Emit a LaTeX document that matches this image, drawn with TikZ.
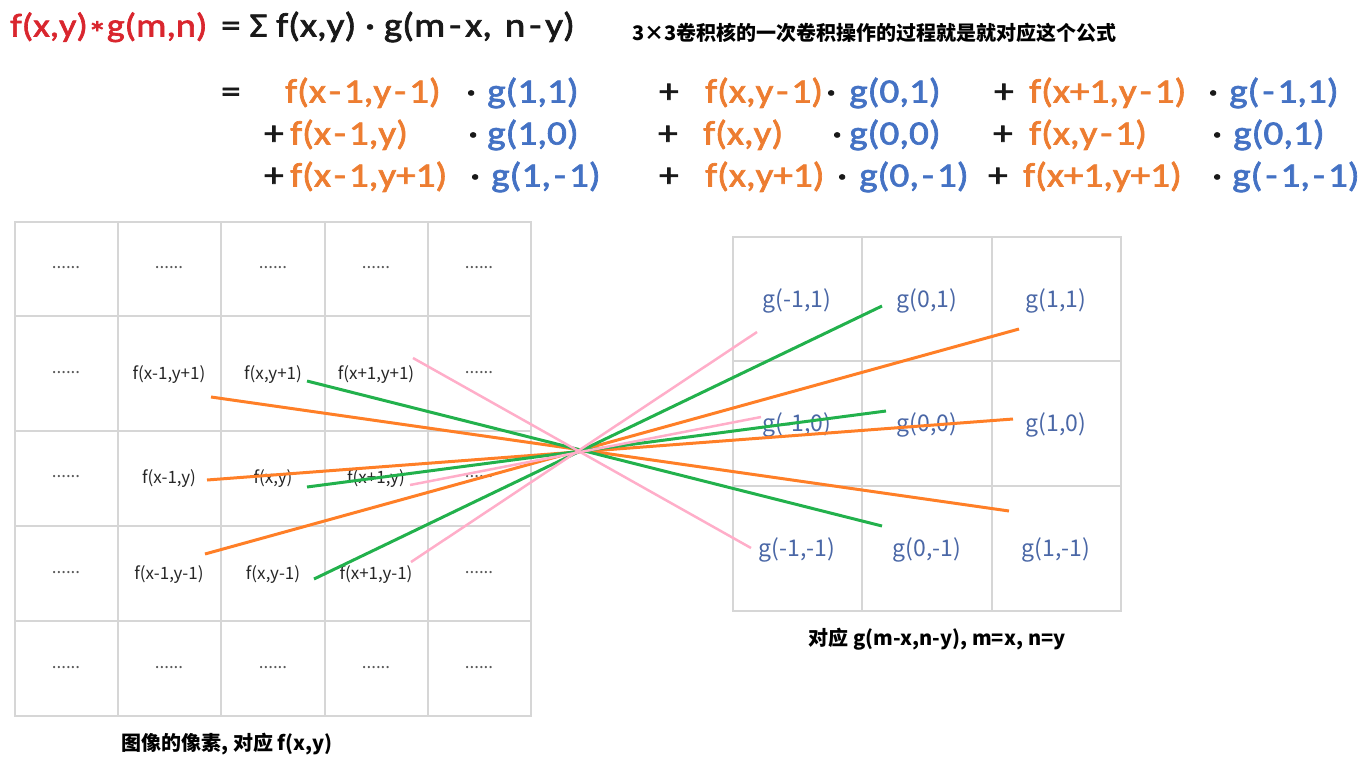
\documentclass[tikz,border=0pt]{standalone}
\usepackage{fontspec}
\newfontfamily\fmlfont{Carlito}[FakeStretch=1.15, FakeBold=2]
\newfontfamily\cjk{Noto Sans CJK SC}
\newcommand\hy{\kern3pt-\kern3pt}
\newcommand\hyw{\kern4pt-\kern4pt}

\definecolor{fred}{HTML}{D9262E}
\definecolor{forange}{HTML}{ED7D31}
\definecolor{gblue}{HTML}{4472C4}
\definecolor{cellblue}{HTML}{4A67A6}
\definecolor{gridgray}{HTML}{D6D6D6}
\definecolor{lorange}{HTML}{FF7F27}
\definecolor{lgreen}{HTML}{22B14C}
\definecolor{lpink}{HTML}{FFAEC9}

\tikzset{
    fml/.style={font=\fmlfont\fontsize{34}{40}\selectfont, inner sep=0pt, anchor=west, text height=25pt, text depth=8pt},
    fo/.style={fml, text=forange},
    gb/.style={fml, text=gblue},
    fk/.style={fml, text=black!90},
    cell/.style={font=\cjk\fontsize{17}{20}\selectfont, text=black!85, inner sep=0pt},
    dotcell/.style={cell, text=black!65},
    kcell/.style={font=\cjk\fontsize{23}{26}\selectfont, text=cellblue, inner sep=0pt},
    capt/.style={font=\cjk\bfseries\fontsize{20}{24}\selectfont, inner sep=0pt},
    gridline/.style={draw=gridgray, line width=1.5pt},
    link/.style={line width=3pt}
}

\begin{document}
\begin{tikzpicture}[x=1pt, y=-1pt]

    \useasboundingbox (0,0) rectangle (1367,764);

    %% Formula

    % First line
    \node[fml, text=fred, font=\fmlfont\fontsize{33}{40}\selectfont] (lhs) at (10,28) {f(x,y)\raisebox{-8pt}{*}g(m,n)};
    \node[fk] (rhs) at (221,28) {= Σ f(x,y) · g(m\hyw x,\hspace{4pt} n\hyw y)};
    \node[capt, anchor=west] (title) at (632,33) {3×3卷积核的一次卷积操作的过程就是就对应这个公式};

    % Row with y-1
    \node[fk] (eq1) at (221,94) {=};
    \node[fo] (r1f1) at (285,94) {f(x\hy 1,y\hy 1)};
    \node[fk] (r1d1) at (466,94) {·};
    \node[gb] (r1g1) at (487,94) {g(1,1)};
    \node[fk] (r1p2) at (659,94) {+};
    \node[fo] (r1f2) at (705,94) {f(x,y\hy 1)};
    \node[fk] (r1d2) at (826,94) {·};
    \node[gb] (r1g2) at (849,94) {g(0,1)};
    \node[fk] (r1p3) at (994,94) {+};
    \node[fo] (r1f3) at (1029,94) {f(x+1,y\hy 1)};
    \node[fk] (r1d3) at (1208,94) {·};
    \node[gb] (r1g3) at (1229,94) {g(\hy 1,1)};

    % Row with y
    \node[fk] (r2p1) at (264,136) {+};
    \node[fo] (r2f1) at (290,136) {f(x\hy 1,y)};
    \node[fk] (r2d1) at (468,136) {·};
    \node[gb] (r2g1) at (487,136) {g(1,0)};
    \node[fk] (r2p2) at (658,136) {+};
    \node[fo] (r2f2) at (703,136) {f(x,y)};
    \node[fk] (r2d2) at (832,136) {·};
    \node[gb] (r2g2) at (849,136) {g(0,0)};
    \node[fk] (r2p3) at (993,136) {+};
    \node[fo] (r2f3) at (1029,136) {f(x,y\hy 1)};
    \node[fk] (r2d3) at (1212,136) {·};
    \node[gb] (r2g3) at (1233,136) {g(0,1)};

    % Row with y+1
    \node[fk] (r3p1) at (264,178) {+};
    \node[fo] (r3f1) at (290,178) {f(x\hy 1,y+1)};
    \node[fk] (r3d1) at (470,178) {·};
    \node[gb] (r3g1) at (491,178) {g(1,\hy 1)};
    \node[fk] (r3p2) at (659,178) {+};
    \node[fo] (r3f2) at (705,178) {f(x,y+1)};
    \node[fk] (r3d2) at (837,178) {·};
    \node[gb] (r3g2) at (859,178) {g(0,\hy 1)};
    \node[fk] (r3p3) at (988,178) {+};
    \node[fo] (r3f3) at (1023,178) {f(x+1,y+1)};
    \node[fk] (r3d3) at (1212,178) {·};
    \node[gb] (r3g3) at (1232,178) {g(\hy 1,\hy 1)};

    %% Image pixels

    % Grid
    \draw[gridline] (15,222) rectangle (531,716);
    \draw[gridline] (118,222) -- (118,716) (221,222) -- (221,716)
        (325,222) -- (325,716) (428,222) -- (428,716);
    \draw[gridline] (15,316) -- (531,316) (15,431) -- (531,431)
        (15,526) -- (531,526) (15,621) -- (531,621);

    % Top row
    \node[dotcell] (c11) at (66,268) {......};
    \node[dotcell] (c12) at (169,268) {......};
    \node[dotcell] (c13) at (273,268) {......};
    \node[dotcell] (c14) at (376,268) {......};
    \node[dotcell] (c15) at (479,268) {......};

    % Row y+1
    \node[dotcell] (c21) at (66,373) {......};
    \node[cell] (c22) at (169,375) {f(x-1,y+1)};
    \node[cell] (c23) at (273,375) {f(x,y+1)};
    \node[cell] (c24) at (376,375) {f(x+1,y+1)};
    \node[dotcell] (c25) at (479,373) {......};

    % Row y
    \node[dotcell] (c31) at (66,477) {......};
    \node[cell] (c32) at (169,479) {f(x-1,y)};
    \node[cell] (c33) at (273,479) {f(x,y)};
    \node[cell] (c34) at (376,479) {f(x+1,y)};
    \node[dotcell] (c35) at (479,477) {......};

    % Row y-1
    \node[dotcell] (c41) at (66,573) {......};
    \node[cell] (c42) at (169,575) {f(x-1,y-1)};
    \node[cell] (c43) at (273,575) {f(x,y-1)};
    \node[cell] (c44) at (376,575) {f(x+1,y-1)};
    \node[dotcell] (c45) at (479,573) {......};

    % Bottom row
    \node[dotcell] (c51) at (66,668) {......};
    \node[dotcell] (c52) at (169,668) {......};
    \node[dotcell] (c53) at (273,668) {......};
    \node[dotcell] (c54) at (376,668) {......};
    \node[dotcell] (c55) at (479,668) {......};

    \node[capt] (capL) at (227,744) {图像的像素, 对应 f(x,y)};

    %% Kernel

    % Grid
    \draw[gridline] (733,237) rectangle (1121,611);
    \draw[gridline] (862,237) -- (862,611) (992,237) -- (992,611);
    \draw[gridline] (733,361) -- (1121,361) (733,486) -- (1121,486);

    % Weights
    \node[kcell] (k11) at (797,301) {g(-1,1)};
    \node[kcell] (k12) at (927,301) {g(0,1)};
    \node[kcell] (k13) at (1056,301) {g(1,1)};
    \node[kcell] (k21) at (797,425) {g(-1,0)};
    \node[kcell] (k22) at (927,425) {g(0,0)};
    \node[kcell] (k23) at (1056,425) {g(1,0)};
    \node[kcell] (k31) at (797,550) {g(-1,-1)};
    \node[kcell] (k32) at (927,550) {g(0,-1)};
    \node[kcell] (k33) at (1056,550) {g(1,-1)};

    \node[capt] (capR) at (937,639) {对应 g(m-x,n-y), m=x, n=y};

    %% Links through the centre

    % Column x-1
    \coordinate (o1s) at (211,397);
    \coordinate (o1e) at (1009,511);
    \coordinate (o2s) at (207,480);
    \coordinate (o2e) at (1013,419);
    \coordinate (o3s) at (205,554);
    \coordinate (o3e) at (1019,329);
    \draw[link, lorange] (o1s) -- (o1e);
    \draw[link, lorange] (o2s) -- (o2e);
    \draw[link, lorange] (o3s) -- (o3e);

    % Column x
    \coordinate (g1s) at (307,381);
    \coordinate (g1e) at (882,526);
    \coordinate (g2s) at (307,487);
    \coordinate (g2e) at (886,411);
    \coordinate (g3s) at (314,579);
    \coordinate (g3e) at (882,306);
    \draw[link, lgreen] (g1s) -- (g1e);
    \draw[link, lgreen] (g2s) -- (g2e);
    \draw[link, lgreen] (g3s) -- (g3e);

    % Column x+1
    \coordinate (p1s) at (413,358);
    \coordinate (p1e) at (751,548);
    \coordinate (p2s) at (410,485);
    \coordinate (p2e) at (761,417);
    \coordinate (p3s) at (411,562);
    \coordinate (p3e) at (757,332);
    \draw[link, lpink, line width=2.5pt] (p1s) -- (p1e);
    \draw[link, lpink, line width=2.5pt] (p2s) -- (p2e);
    \draw[link, lpink, line width=2.5pt] (p3s) -- (p3e);

\end{tikzpicture}
\end{document}
